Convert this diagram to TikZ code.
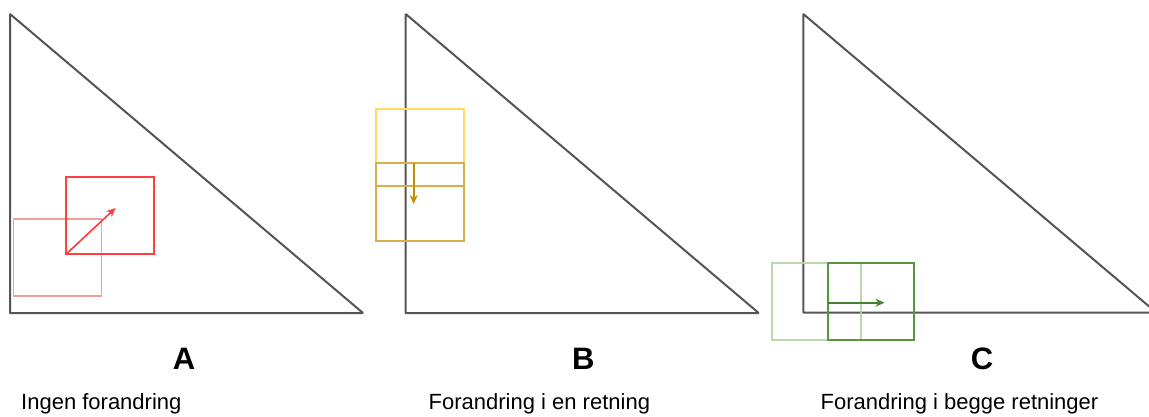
\documentclass[tikz,border=0pt]{standalone}
\usepackage{fontspec}
\setmainfont{Liberation Sans}
\usetikzlibrary{arrows.meta}
\definecolor{triline}{RGB}{85,85,85}
\definecolor{redlight}{RGB}{244,156,156}
\definecolor{reddark}{RGB}{255,64,64}
\definecolor{yellight}{RGB}{255,217,102}
\definecolor{yeldark}{RGB}{214,176,70}
\definecolor{yelarrow}{RGB}{191,144,0}
\definecolor{grnlight}{RGB}{176,214,160}
\definecolor{grndark}{RGB}{90,150,65}
\definecolor{grnarrow}{RGB}{70,130,45}
\begin{document}
\begin{tikzpicture}[x=1pt,y=-1pt,
  tri/.style={draw=triline,line width=2pt,line join=bevel},
  sq/.style={line width=1.7pt},
  mv/.style={line width=1.7pt,-{Stealth[length=9pt,width=8pt]}},
  letter/.style={font=\fontsize{31}{36}\selectfont\bfseries,anchor=base,inner sep=0pt},
  caption/.style={font=\fontsize{22}{26}\selectfont,anchor=base west,inner sep=0pt}]
\useasboundingbox (0,0) rectangle (1149,416);
\clip (0,0) rectangle (1149,416);
% Panel A
\draw[tri] (10,14) -- (10,313) -- (363,313) -- cycle;
\draw[sq,redlight] (13.5,219) rectangle (101.5,296);
\draw[sq,reddark] (66,176.7) rectangle (154,254.3);
\coordinate (a0) at (66,254.3);
\coordinate (a1) at (115.5,208);
\draw[mv,reddark] (a0) -- (a1);
\node[letter] (la) at (184,369) {A};
\node[caption] (ca) at (21,409) {Ingen forandring};
% Panel B
\draw[tri] (405.7,14) -- (405.7,313) -- (758.7,313) -- cycle;
\draw[sq,yellight] (376,109) rectangle (464,186);
\draw[sq,yeldark] (376,163.3) rectangle (464,240.7);
\draw[sq,yeldark] (376,186) -- (464,186);
\coordinate (b0) at (413.7,163.3);
\coordinate (b1) at (413.7,204);
\draw[mv,yelarrow] (b0) -- (b1);
\node[letter] (lb) at (583.3,369) {B};
\node[caption] (cb) at (428.5,409) {Forandring i en retning};
% Panel C
\draw[tri] (803.3,14) -- (803.3,312.5) -- (1156.3,312.5) -- cycle;
\draw[sq,grnlight,opacity=0.9] (772.3,263.3) rectangle (860.7,340);
\draw[sq,grndark] (827.7,263.3) rectangle (914.3,340);
\coordinate (c0) at (827.7,302.7);
\coordinate (c1) at (884.5,302.7);
\draw[mv,grnarrow] (c0) -- (c1);
\node[letter] (lc) at (982,369) {C};
\node[caption] (cc) at (820.5,409) {Forandring i begge retninger};
\end{tikzpicture}
\end{document}
